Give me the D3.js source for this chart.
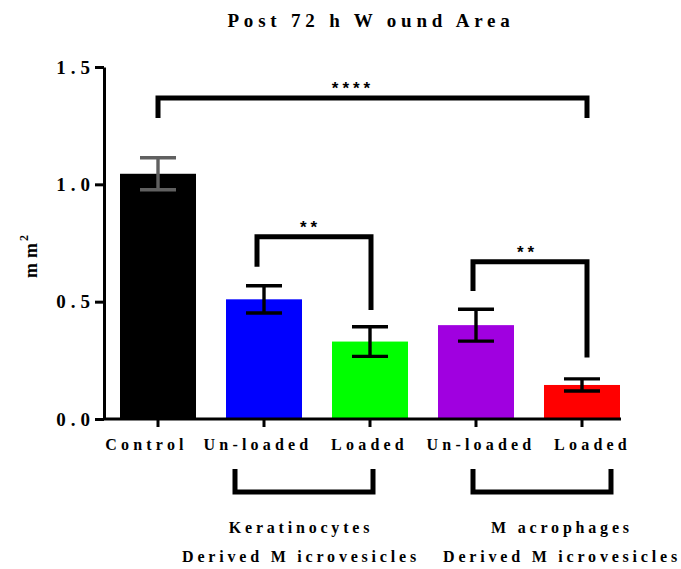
<!DOCTYPE html>
<html>
<head>
<meta charset="utf-8">
<script src="https://cdn.jsdelivr.net/npm/d3@7"></script>
<style>
  html, body { margin: 0; padding: 0; background: #fff; }
  svg { display: block; }
  text { font-family: "Liberation Serif", "Times New Roman", serif; font-weight: bold; fill: #000; }
</style>
</head>
<body>
<script>
// ---- data ----
const categories = ["Control", "K Un-loaded", "K Loaded", "M Un-loaded", "M Loaded"];
const tickLabels = ["Control", "Un-loaded", "Loaded", "Un-loaded", "Loaded"];
const means = [1.045, 0.51, 0.33, 0.40, 0.145];
const errors = [0.068, 0.058, 0.063, 0.068, 0.026];
const barColors = ["#000000", "#0000ff", "#00ff00", "#a000e0", "#ff0000"];
const errColors = ["#606060", "#000000", "#000000", "#000000", "#000000"];
const yTicks = [0.0, 0.5, 1.0, 1.5];
const yTickLabels = ["0.0", "0.5", "1.0", "1.5"];
// significance brackets
const sigFrom = ["Control", "K Un-loaded", "M Un-loaded"];
const sigTo = ["M Loaded", "K Loaded", "M Loaded"];
const sigLevel = [1.368, 0.777, 0.670];
const sigLeftEnd = [1.283, 0.649, 0.545];
const sigRightEnd = [1.283, 0.464, 0.262];
const sigStars = ["****", "**", "**"];
const groupLabels = [["Keratinocytes", "Derived M icrovesicles"], ["M acrophages", "Derived M icrovesicles"]];
const groupMembers = [["K Un-loaded", "K Loaded"], ["M Un-loaded", "M Loaded"]];
const titleText = "Post 72 h W ound Area";

// ---- layout ----
const W = 681, H = 569;
const svg = d3.select("body").append("svg").attr("width", W).attr("height", H);

const x = d3.scaleBand().domain(categories).range([104, 636]).paddingInner(0.283).paddingOuter(0.151);
const y = d3.scaleLinear().domain([0, 1.5]).range([419, 67]);
const cx = c => x(c) + x.bandwidth() / 2;

// title
svg.append("text")
  .attr("x", 371)
  .attr("y", 27)
  .attr("text-anchor", "middle")
  .style("font-size", "19px")
  .style("letter-spacing", "4.8px")
  .text(titleText);

// bars
svg.selectAll("rect.bar").data(categories).enter().append("rect")
  .attr("class", "bar")
  .attr("x", d => x(d))
  .attr("width", x.bandwidth())
  .attr("y", (d, i) => y(means[i]))
  .attr("height", (d, i) => y(0) - y(means[i]))
  .attr("fill", (d, i) => barColors[i]);

// error bars
const eb = svg.selectAll("g.err").data(categories).enter().append("g").attr("class", "err")
  .attr("stroke", (d, i) => errColors[i]).attr("stroke-width", 3.4);
eb.append("line")
  .attr("x1", d => cx(d)).attr("x2", d => cx(d))
  .attr("y1", (d, i) => y(means[i] + errors[i])).attr("y2", (d, i) => y(means[i] - errors[i]));
[1, -1].forEach(s => {
  eb.append("line")
    .attr("x1", d => cx(d) - 18).attr("x2", d => cx(d) + 18)
    .attr("y1", (d, i) => y(means[i] + s * errors[i])).attr("y2", (d, i) => y(means[i] + s * errors[i]));
});

// y axis
const yAxis = d3.axisLeft(y).tickValues(yTicks).tickFormat((d, i) => yTickLabels[i]).tickSize(9).tickPadding(0).tickSizeOuter(0);
const gy = svg.append("g").attr("transform", "translate(104,0)").call(yAxis);
gy.select(".domain").attr("stroke", "#000").attr("stroke-width", 3);
gy.selectAll(".tick line").attr("stroke", "#000").attr("stroke-width", 3);
gy.selectAll(".tick text")
  .style("font-family", '"Liberation Serif", serif').style("font-weight", "bold")
  .style("font-size", "19px").style("letter-spacing", "5px").attr("fill", "#000");

// x axis
const xAxis = d3.axisBottom(x).tickFormat((d, i) => tickLabels[i]).tickSize(8).tickPadding(12).tickSizeOuter(0);
const gx = svg.append("g").attr("transform", "translate(0,419)").call(xAxis);
gx.select(".domain").attr("d", `M${x.range()[0]},0H${x(categories[4]) + x.bandwidth() + 1}`)
  .attr("stroke", "#000").attr("stroke-width", 3);
gx.selectAll(".tick line").attr("stroke", "#000").attr("stroke-width", 3);
gx.selectAll(".tick text")
  .style("font-family", '"Liberation Serif", serif').style("font-weight", "bold")
  .style("font-size", "16px").style("letter-spacing", "4.2px").attr("fill", "#000")
  .attr("dx", (d, i) => (i - 2) * 5.5 - 0.5);

// y axis label
const yl = svg.append("text")
  .attr("transform", "translate(37,254) rotate(-90)")
  .attr("text-anchor", "middle")
  .style("font-size", "18px")
  .style("letter-spacing", "5px");
yl.append("tspan").text("mm");
yl.append("tspan").attr("dy", -9).attr("dx", -3).style("font-size", "12px").text("2");

// significance brackets
const sig = svg.selectAll("g.sig").data(sigFrom).enter().append("g").attr("class", "sig");
const sigLeftX = [0, -7, -3];
const sigRightX = [5, 1, 5];
sig.append("path")
  .attr("d", (d, i) => {
    const x1 = cx(d) + sigLeftX[i], x2 = cx(sigTo[i]) + sigRightX[i];
    return `M${x1},${y(sigLeftEnd[i])}V${y(sigLevel[i])}H${x2}V${y(sigRightEnd[i])}`;
  })
  .attr("fill", "none").attr("stroke", "#000").attr("stroke-width", 5);
sig.append("text")
  .attr("x", (d, i) => (cx(d) + sigLeftX[i] + cx(sigTo[i]) + sigRightX[i]) / 2 + [-22, -6, -5][i] + 2.5)
  .attr("y", (d, i) => y(sigLevel[i]) - 4)
  .attr("text-anchor", "middle")
  .style("font-family", '"Liberation Sans", Arial, sans-serif')
  .style("font-size", "17px")
  .style("letter-spacing", "4px")
  .text((d, i) => sigStars[i]);

// group brackets below
const gb = svg.selectAll("g.grp").data(groupMembers).enter().append("g").attr("class", "grp");
const gbL = [-29, -3], gbR = [3, 29];
gb.append("path")
  .attr("d", (d, i) => `M${cx(d[0]) + gbL[i]},469V492H${cx(d[1]) + gbR[i]}V469`)
  .attr("fill", "none").attr("stroke", "#000").attr("stroke-width", 5);
const gOff = [-18, 31];
gb.each(function(d, i) {
  const mid = (cx(d[0]) + cx(d[1])) / 2 + gOff[i] + 2;
  groupLabels[i].forEach((t, j) => {
    d3.select(this).append("text")
      .attr("x", mid).attr("y", j === 0 ? 533 : 562)
      .attr("text-anchor", "middle")
      .style("font-size", "16px")
      .style("letter-spacing", "3.8px")
      .text(t);
  });
});
</script>
</body>
</html>
